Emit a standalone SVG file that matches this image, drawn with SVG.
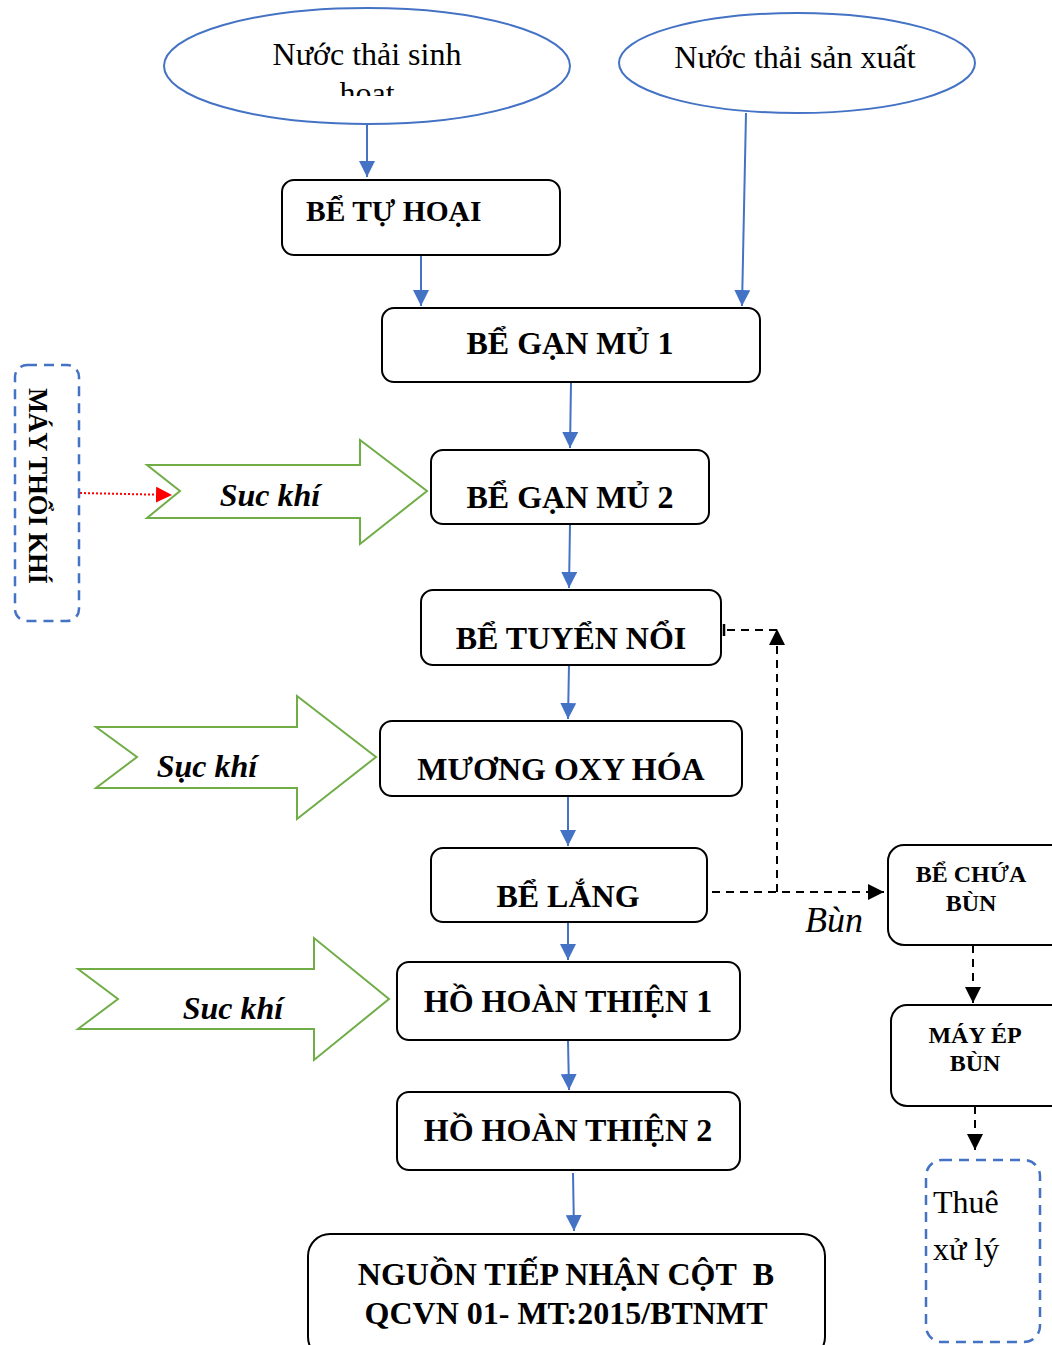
<svg xmlns="http://www.w3.org/2000/svg" width="1052" height="1345" viewBox="0 0 1052 1345">
<style>
.box{fill:#fff;stroke:#000;stroke-width:2}
.ell{fill:#fff;stroke:#4472C4;stroke-width:2}
.t{font-family:"Liberation Serif","Times New Roman",serif;fill:#000}
.b{font-weight:bold;font-size:32px}
.sm{font-weight:bold;font-size:24px}
.reg{font-size:32px}
.ital{font-style:italic;font-weight:bold;font-size:32px}
.blue{stroke:#4472C4;stroke-width:2;fill:none}
.dash{stroke:#000;stroke-width:2;fill:none;stroke-dasharray:8,6}
.green{fill:#fff;stroke:#70AD47;stroke-width:2}
.bdash{fill:#fff;stroke:#4472C4;stroke-width:2.5;stroke-dasharray:10,7}
</style>
<defs>
<marker id="ab" viewBox="0 0 10 10" refX="10" refY="5" markerWidth="8" markerHeight="8" markerUnits="strokeWidth" orient="auto"><path d="M0,0L10,5L0,10z" fill="#4472C4"/></marker>
<marker id="ak" viewBox="0 0 10 10" refX="10" refY="5" markerWidth="8" markerHeight="8" markerUnits="strokeWidth" orient="auto"><path d="M0,0L10,5L0,10z" fill="#000"/></marker>
<marker id="ar" viewBox="0 0 10 10" refX="10" refY="5" markerWidth="8" markerHeight="8" markerUnits="strokeWidth" orient="auto"><path d="M0,0L10,5L0,10z" fill="#FF0000"/></marker>
<clipPath id="c1"><rect x="160" y="0" width="420" height="96"/></clipPath>
</defs>
<rect width="1052" height="1345" fill="#fff"/>

<g id="connectors">
<path class="blue" d="M367,124V177" marker-end="url(#ab)"/>
<path class="blue" d="M421,255V306" marker-end="url(#ab)"/>
<path class="blue" d="M746,113L742,306" marker-end="url(#ab)"/>
<path class="blue" d="M571,382L570,448" marker-end="url(#ab)"/>
<path class="blue" d="M570,524L569,588" marker-end="url(#ab)"/>
<path class="blue" d="M569,665L568,719" marker-end="url(#ab)"/>
<path class="blue" d="M568,796V846" marker-end="url(#ab)"/>
<path class="blue" d="M568,922V960" marker-end="url(#ab)"/>
<path class="blue" d="M568,1040L569,1090" marker-end="url(#ab)"/>
<path class="blue" d="M573,1173L574,1231" marker-end="url(#ab)"/>
<path class="dash" d="M712,892H884" marker-end="url(#ak)"/>
<path class="dash" d="M777,892V629" marker-end="url(#ak)"/>
<path class="dash" d="M777,630H724"/>
<path d="M724,624V636" stroke="#000" stroke-width="2.5"/>
<path class="dash" d="M973,945V1003" marker-end="url(#ak)"/>
<path class="dash" d="M975,1106V1150" marker-end="url(#ak)"/>
<path d="M80,493L172,495" stroke="#FF0000" stroke-width="2" stroke-dasharray="2,2" fill="none" marker-end="url(#ar)"/>
<text class="t" x="805" y="932" font-size="36" font-style="italic">Bùn</text>
</g>

<g id="n-sinhhoat">
<ellipse class="ell" cx="367" cy="66" rx="203" ry="58"/>
<text class="t reg" x="367" y="65" text-anchor="middle">Nước thải sinh</text>
<text class="t reg" x="367" y="104" text-anchor="middle" clip-path="url(#c1)">hoạt</text>
</g>
<g id="n-sanxuat">
<ellipse class="ell" cx="797" cy="63" rx="178" ry="50"/>
<text class="t reg" x="795" y="68" text-anchor="middle">Nước thải sản xuất</text>
</g>
<g id="n-tuhoai">
<rect class="box" x="282" y="180" width="278" height="75" rx="12"/>
<text class="t b" x="306" y="221" style="font-size:29.5px">BỂ TỰ HOẠI</text>
</g>
<g id="n-ganmu1">
<rect class="box" x="382" y="308" width="378" height="74" rx="12"/>
<text class="t b" x="570" y="354" text-anchor="middle">BỂ GẠN MỦ 1</text>
</g>
<g id="n-ganmu2">
<rect class="box" x="431" y="450" width="278" height="74" rx="12"/>
<text class="t b" x="570" y="508" text-anchor="middle">BỂ GẠN MỦ 2</text>
</g>
<g id="n-tuyennoi">
<rect class="box" x="421" y="590" width="300" height="75" rx="12"/>
<text class="t b" x="571" y="649" text-anchor="middle">BỂ TUYỂN NỔI</text>
</g>
<g id="n-muong">
<rect class="box" x="380" y="721" width="362" height="75" rx="12"/>
<text class="t b" x="561" y="780" text-anchor="middle">MƯƠNG OXY HÓA</text>
</g>
<g id="n-belang">
<rect class="box" x="431" y="848" width="276" height="74" rx="12"/>
<text class="t b" x="568" y="907" text-anchor="middle">BỂ LẮNG</text>
</g>
<g id="n-ho1">
<rect class="box" x="397" y="962" width="343" height="78" rx="12"/>
<text class="t b" x="568" y="1012" text-anchor="middle">HỒ HOÀN THIỆN 1</text>
</g>
<g id="n-ho2">
<rect class="box" x="397" y="1092" width="343" height="78" rx="12"/>
<text class="t b" x="568" y="1141" text-anchor="middle">HỒ HOÀN THIỆN 2</text>
</g>
<g id="n-nguon">
<rect class="box" x="308" y="1234" width="517" height="125" rx="22"/>
<text class="t b" x="566" y="1285" text-anchor="middle">NGUỒN TIẾP NHẬN CỘT&#160; B</text>
<text class="t b" x="566" y="1324" text-anchor="middle">QCVN 01- MT:2015/BTNMT</text>
</g>
<g id="n-bechua">
<rect class="box" x="888" y="845" width="180" height="100" rx="16"/>
<text class="t sm" x="971" y="882" text-anchor="middle">BỂ CHỨA</text>
<text class="t sm" x="971" y="911" text-anchor="middle">BÙN</text>
</g>
<g id="n-mayep">
<rect class="box" x="891" y="1005" width="180" height="101" rx="16"/>
<text class="t sm" x="975" y="1043" text-anchor="middle">MÁY ÉP</text>
<text class="t sm" x="975" y="1071" text-anchor="middle">BÙN</text>
</g>
<g id="n-thue">
<rect class="bdash" x="926" y="1160" width="114" height="182" rx="16"/>
<text class="t" x="933" y="1213" font-size="32">Thuê</text>
<text class="t" x="933" y="1260" font-size="32">xử lý</text>
</g>
<g id="n-maythoi">
<rect class="bdash" x="15" y="365" width="64" height="256" rx="12"/>
<text class="t" font-weight="bold" font-size="26.5" transform="translate(29,486) rotate(90)" text-anchor="middle">MÁY THỔI KHÍ</text>
</g>
<g id="n-suckhi1">
<path class="green" d="M147,465H360V440L427,491L360,544V518H147L180,491Z"/>
<text class="t ital" x="270" y="506" text-anchor="middle">Suc khí</text>
</g>
<g id="n-suckhi2">
<path class="green" d="M96,727H297V696L376,757L297,819V788H96L137,757Z"/>
<text class="t ital" x="207" y="777" text-anchor="middle">Sục khí</text>
</g>
<g id="n-suckhi3">
<path class="green" d="M78,969H314V938L389,999L314,1060V1029H78L118,999Z"/>
<text class="t ital" x="233" y="1019" text-anchor="middle">Suc khí</text>
</g>
</svg>
